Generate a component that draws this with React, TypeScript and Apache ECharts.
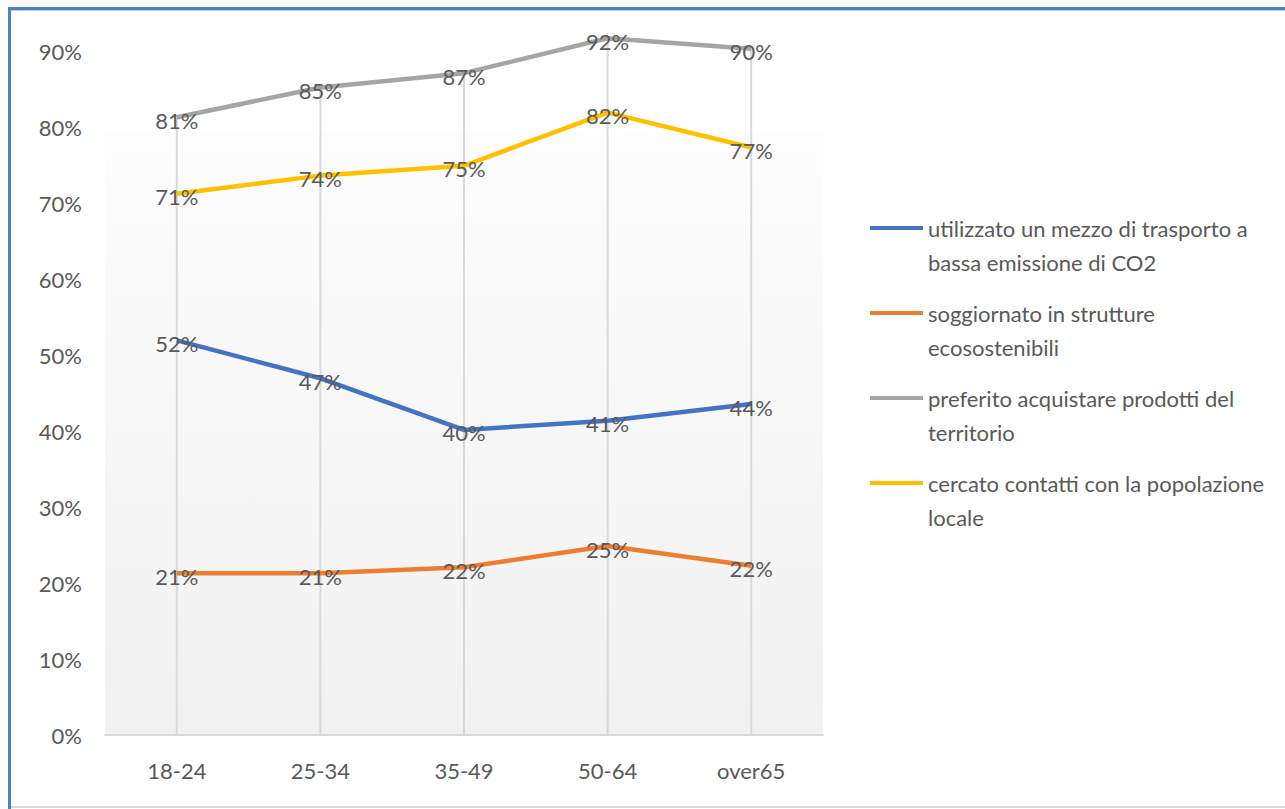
import React, { useEffect, useRef } from "react";
import * as echarts from "echarts";

const categories = ["18-24", "25-34", "35-49", "50-64", "over65"];
const yTicks = [0, 0.1, 0.2, 0.3, 0.4, 0.5, 0.6, 0.7, 0.8, 0.9, 1.0];

const seriesNames = [
  "utilizzato un mezzo di trasporto a bassa emissione di CO2",
  "soggiornato in strutture ecosostenibili",
  "preferito acquistare prodotti del territorio",
  "cercato contatti con la popolazione locale",
];
const legendLines: Record<string, string> = {
  [seriesNames[0]]: "utilizzato un mezzo di trasporto a\nbassa emissione di CO2",
  [seriesNames[1]]: "soggiornato in strutture\necosostenibili",
  [seriesNames[2]]: "preferito acquistare prodotti del\nterritorio",
  [seriesNames[3]]: "cercato contatti con la popolazione\nlocale",
};

const trasportoValues = [0.52, 0.47, 0.402, 0.414, 0.436];
const struttureValues = [0.213, 0.213, 0.221, 0.249, 0.223];
const prodottiValues = [0.814, 0.853, 0.872, 0.918, 0.904];
const contattiValues = [0.713, 0.737, 0.75, 0.82, 0.774];

const seriesColors = ["#4472c4", "#ed7d31", "#a5a5a5", "#ffc000"];
const allValues = [trasportoValues, struttureValues, prodottiValues, contattiValues];

const FONT = "Lato, 'Open Sans', sans-serif";
const OFF = 40; // chart is shifted up so the 100% tick falls outside the view
const H = 809 + OFF;

export default function App() {
  const ref = useRef<HTMLDivElement>(null);
  useEffect(() => {
    if (!ref.current) return;
    const chart = echarts.init(ref.current, null, { renderer: "svg" });
    const dropValues = categories.map((_, i) => Math.max(...allValues.map((s) => s[i])));
    const lineSeries = allValues.map((vals, k) => ({
      name: seriesNames[k],
      type: "line",
      data: vals,
      symbol: "circle",
      symbolSize: 0.1,
      showSymbol: true,
      z: 5,
      lineStyle: { width: 4.5, color: seriesColors[k] },
      itemStyle: { color: seriesColors[k] },
      label: {
        show: true,
        position: "inside",
        offset: [0, 3],
        fontSize: 22,
        fontFamily: FONT,
        color: "#595959",
        formatter: (p: any) => Math.round(p.value * 100) + "%",
      },
    }));
    chart.setOption({
      animation: false,
      backgroundColor: "#ffffff",
      graphic: [
        {
          type: "rect",
          z: -10,
          silent: true,
          shape: { x: 105, y: 133 + OFF, width: 718, height: 602 },
          style: {
            fill: new echarts.graphic.LinearGradient(0, 0, 0, 1, [
              { offset: 0, color: "#fdfdfd" },
              { offset: 1, color: "#f1f1f1" },
            ]),
          },
        },
        {
          type: "rect",
          z: 50,
          silent: true,
          shape: { x: 0, y: 0, width: 1285, height: 7 + OFF },
          style: { fill: "#ffffff" },
        },
        {
          type: "line",
          z: 51,
          silent: true,
          shape: { x1: 8, y1: 8.5 + OFF, x2: 1285, y2: 8.5 + OFF },
          style: { stroke: "#4f81bd", lineWidth: 3 },
        },
        {
          type: "line",
          z: 51,
          silent: true,
          shape: { x1: 11, y1: 10.5 + OFF, x2: 1285, y2: 10.5 + OFF },
          style: { stroke: "#b4c9e4", lineWidth: 1 },
        },
        {
          type: "line",
          z: 51,
          silent: true,
          shape: { x1: 9.5, y1: 7 + OFF, x2: 9.5, y2: H },
          style: { stroke: "#4f81bd", lineWidth: 3 },
        },
        {
          type: "line",
          z: 51,
          silent: true,
          shape: { x1: 11, y1: 807 + OFF, x2: 1285, y2: 807 + OFF },
          style: { stroke: "#d9d9d9", lineWidth: 2 },
        },
      ],
      grid: { left: 105, right: 462, top: 16, bottom: 74, containLabel: false },
      legend: {
        orient: "vertical",
        left: 865,
        top: 172 + OFF,
        itemWidth: 53,
        itemHeight: 4,
        itemGap: -17,
        icon: "rect",
        data: seriesNames,
        formatter: (name: string) => "\n" + (legendLines[name] || name),
        textStyle: {
          fontSize: 22,
          fontFamily: FONT,
          color: "#595959",
          lineHeight: 34,
        },
      },
      xAxis: {
        type: "category",
        data: categories,
        boundaryGap: true,
        axisLine: { show: true, lineStyle: { color: "#d9d9d9", width: 2 } },
        axisTick: { show: false },
        splitLine: { show: false },
        axisLabel: { fontSize: 22, fontFamily: FONT, color: "#595959", margin: 24 },
      },
      yAxis: {
        type: "value",
        min: yTicks[0],
        max: yTicks[yTicks.length - 1],
        interval: 0.1,
        axisLine: { show: false },
        axisTick: { show: false },
        splitLine: { show: false },
        axisLabel: {
          fontSize: 22,
          fontFamily: FONT,
          color: "#595959",
          margin: 23,
          formatter: (v: number) => (v >= 0.95 ? "" : Math.round(v * 100) + "%"),
        },
      },
      series: [
        {
          name: "dropLines",
          type: "bar",
          data: dropValues,
          barWidth: 2,
          z: 1,
          silent: true,
          itemStyle: { color: "#d9d9d9" },
          label: { show: false },
        },
        ...lineSeries,
      ],
    });
    return () => chart.dispose();
  }, []);
  return (
    <div
      ref={ref}
      style={{ position: "fixed", left: 0, top: -OFF, width: 1285, height: H }}
    />
  );
}
